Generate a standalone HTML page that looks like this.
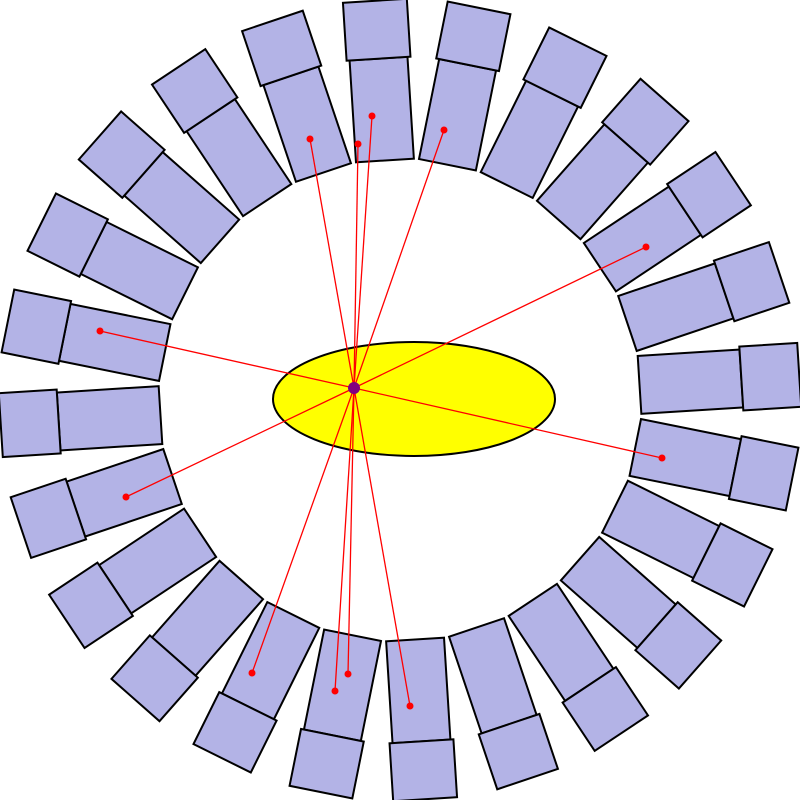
<!DOCTYPE html>
<html><head><meta charset="utf-8"><style>html,body{margin:0;padding:0;background:#fff}svg{display:block}</style></head>
<body>
<svg width="800" height="800" viewBox="0 0 800 800" xmlns="http://www.w3.org/2000/svg">
<defs>
<g id="m"><rect x="640" y="371" width="102" height="58"/><rect x="742" y="368" width="58" height="64"/></g>
</defs>
<g fill="#b3b3e6" stroke="#000" stroke-width="2">
<use href="#m" transform="rotate(-3.6 400 400)"/>
<use href="#m" transform="rotate(11.4 400 400)"/>
<use href="#m" transform="rotate(26.4 400 400)"/>
<use href="#m" transform="rotate(41.4 400 400)"/>
<use href="#m" transform="rotate(56.4 400 400)"/>
<use href="#m" transform="rotate(71.4 400 400)"/>
<use href="#m" transform="rotate(86.4 400 400)"/>
<use href="#m" transform="rotate(101.4 400 400)"/>
<use href="#m" transform="rotate(116.4 400 400)"/>
<use href="#m" transform="rotate(131.4 400 400)"/>
<use href="#m" transform="rotate(146.4 400 400)"/>
<use href="#m" transform="rotate(161.4 400 400)"/>
<use href="#m" transform="rotate(176.4 400 400)"/>
<use href="#m" transform="rotate(191.4 400 400)"/>
<use href="#m" transform="rotate(206.4 400 400)"/>
<use href="#m" transform="rotate(221.4 400 400)"/>
<use href="#m" transform="rotate(236.4 400 400)"/>
<use href="#m" transform="rotate(251.4 400 400)"/>
<use href="#m" transform="rotate(266.4 400 400)"/>
<use href="#m" transform="rotate(281.4 400 400)"/>
<use href="#m" transform="rotate(296.4 400 400)"/>
<use href="#m" transform="rotate(311.4 400 400)"/>
<use href="#m" transform="rotate(326.4 400 400)"/>
<use href="#m" transform="rotate(341.4 400 400)"/>
</g>
<ellipse cx="414" cy="399" rx="141" ry="57" fill="#ffff00" stroke="#000" stroke-width="2"/>
<g stroke="#ff0000" stroke-width="1.3" fill="none">
<line x1="354" y1="388" x2="310" y2="139"/>
<line x1="354" y1="388" x2="358" y2="144"/>
<line x1="354" y1="388" x2="372" y2="116"/>
<line x1="354" y1="388" x2="444" y2="130"/>
<line x1="354" y1="388" x2="646" y2="247"/>
<line x1="354" y1="388" x2="100" y2="331"/>
<line x1="354" y1="388" x2="662" y2="458"/>
<line x1="354" y1="388" x2="126" y2="497"/>
<line x1="354" y1="388" x2="252" y2="673"/>
<line x1="354" y1="388" x2="335" y2="691"/>
<line x1="354" y1="388" x2="348" y2="674"/>
<line x1="354" y1="388" x2="410" y2="706"/>
</g>
<g fill="#ff0000">
<circle cx="310" cy="139" r="3.5"/><circle cx="358" cy="144" r="3.5"/><circle cx="372" cy="116" r="3.5"/>
<circle cx="444" cy="130" r="3.5"/><circle cx="646" cy="247" r="3.5"/><circle cx="100" cy="331" r="3.5"/>
<circle cx="662" cy="458" r="3.5"/><circle cx="126" cy="497" r="3.5"/><circle cx="252" cy="673" r="3.5"/>
<circle cx="335" cy="691" r="3.5"/><circle cx="348" cy="674" r="3.5"/><circle cx="410" cy="706" r="3.5"/>
</g>
<circle cx="354" cy="388" r="6" fill="#800080"/>
</svg>
</body></html>
